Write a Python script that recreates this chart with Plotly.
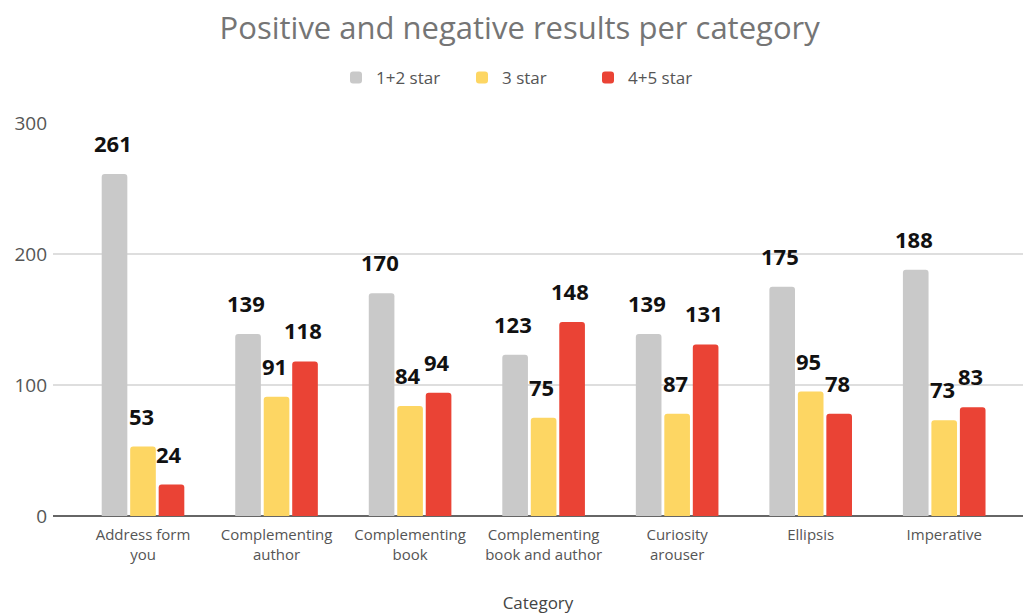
import plotly.graph_objects as go

categories = ["Address form<br>you", "Complementing<br>author", "Complementing<br>book",
              "Complementing<br>book and author", "Curiosity<br>arouser", "Ellipsis", "Imperative"]
star12 = [261, 139, 170, 123, 139, 175, 188]
star3 = [53, 91, 84, 75, 78, 95, 73]
star45 = [24, 118, 94, 148, 131, 78, 83]
# value labels as printed on the chart
star12_labels = ["261", "139", "170", "123", "139", "175", "188"]
star3_labels = ["53", "91", "84", "75", "87", "95", "73"]
star45_labels = ["24", "118", "94", "148", "131", "78", "83"]
series_names = ["1+2 star", "3 star", "4+5 star"]
colors = ["#c9c9c9", "#fdd663", "#ea4335"]

series = [star12, star3, star45]
labels = [star12_labels, star3_labels, star45_labels]

fig = go.Figure()
for name, vals, col in zip(series_names, series, colors):
    fig.add_trace(go.Bar(x=categories, y=vals, name=name,
                         marker=dict(color=col, line=dict(width=0), cornerradius=3)))

bargap = 0.36
bargroupgap = 0.1
group_w = 1 - bargap
slot = group_w / 3
plot_w = 1023 - 53
xr = [-0.674, 6.59]
px_per_unit = plot_w / (xr[1] - xr[0])

for si, (vals, labs) in enumerate(zip(series, labels)):
    offset_units = -group_w / 2 + slot * (si + 0.5)
    for ci, (v, t) in enumerate(zip(vals, labs)):
        fig.add_annotation(x=categories[ci], y=v, text="<b>" + t + "</b>",
                           showarrow=False, xref="x", yref="y",
                           xanchor="center", yanchor="bottom",
                           xshift=offset_units * px_per_unit - 2, yshift=14,
                           font=dict(family="Open Sans", size=22, color="#111111"))

fig.update_layout(
    width=1023, height=616,
    margin=dict(l=53, r=0, t=123, b=100),
    paper_bgcolor="white", plot_bgcolor="white",
    barmode="group", bargap=bargap, bargroupgap=bargroupgap,
    title=dict(text="Positive and negative results per category",
               x=0.508, xanchor="center", y=1 - 28 / 616, yanchor="middle",
               font=dict(family="Open Sans", size=31, color="#757575")),
    legend=dict(orientation="h", x=0.4866, xanchor="center", xref="paper",
                y=1 + 45 / 393, yanchor="middle",
                font=dict(family="Open Sans", size=17, color="#555555"),
                entrywidth=81, entrywidthmode="pixels"),
    showlegend=True,
    xaxis=dict(range=xr, showgrid=False, showline=False, ticks="",
               tickfont=dict(family="Open Sans", size=15, color="#555555"),
               ticklabelstandoff=8,
               title=dict(text="Category", standoff=34,
                          font=dict(family="Open Sans", size=17, color="#444444"))),
    yaxis=dict(range=[0, 300], tickvals=[0, 100, 200, 300], showgrid=True,
               gridcolor="#dedede", gridwidth=1.5,
               zeroline=True, zerolinecolor="#666666", zerolinewidth=2,
               tickfont=dict(family="Open Sans", size=19, color="#555555"),
               ticklabelstandoff=5),
)

fig.write_html("out.html")
